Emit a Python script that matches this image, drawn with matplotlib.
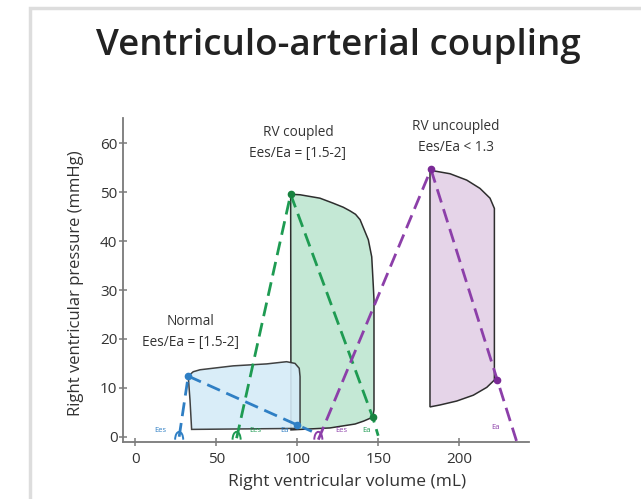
import matplotlib
matplotlib.use("Agg")
import matplotlib.pyplot as plt
from matplotlib.patches import Arc, Rectangle

plt.rcParams['font.family'] = ['Open Sans', 'DejaVu Sans']

# Pressure-volume loop outlines (volume in mL, pressure in mmHg)
normal_vol = [32.6, 35.7, 39.9, 60.4, 81.1, 93.4, 98.6, 101.2, 101.7, 101.7, 99.6, 34.7, 33.7]
normal_pres = [12.4, 13.3, 13.7, 14.5, 14.9, 15.35, 15.0, 14.0, 12.3, 2.7, 1.7, 1.5, 7.5]

coupled_vol = [95.9, 101.7, 114.0, 122.0, 128.4, 132.6, 136.0, 138.8, 143.9, 146.0,
               147.0, 147.4, 147.4, 146.6, 141.0, 135.7, 120.2, 96.1]
coupled_pres = [49.6, 49.5, 48.8, 47.8, 46.95, 46.2, 45.5, 44.4, 40.3, 36.8,
                30.7, 28.0, 5.5, 4.0, 3.2, 2.6, 1.8, 1.4]

uncoupled_vol = [182.0, 184.1, 194.4, 204.7, 212.9, 219.1, 221.8, 221.8,
                 217.1, 208.8, 198.5, 188.2, 182.0]
uncoupled_pres = [54.7, 54.4, 53.8, 52.5, 50.8, 48.8, 46.7, 11.6,
                  10.1, 8.5, 7.3, 6.5, 6.1]

# Elastance lines: end-systolic (Ees) and arterial (Ea)
normal_ees_vol, normal_ees_pres = [27.0, 32.6], [0.0, 12.4]
normal_ea_vol, normal_ea_pres = [32.6, 100.0, 109.0], [12.4, 2.4, 1.1]
coupled_ees_vol, coupled_ees_pres = [62.5, 95.9], [-0.3, 49.6]
coupled_ea_vol, coupled_ea_pres = [95.9, 146.6, 150.0], [49.6, 4.0, 0.2]
uncoupled_ees_vol, uncoupled_ees_pres = [113.0, 182.6], [-0.6, 54.7]
uncoupled_ea_vol, uncoupled_ea_pres = [182.6, 223.6, 235.6], [54.7, 11.6, -1.0]

# Marked points (end-systolic and end-diastolic/Ea intercept)
normal_pts_vol, normal_pts_pres = [32.6, 100.0], [12.4, 2.4]
coupled_pts_vol, coupled_pts_pres = [95.9, 146.6], [49.6, 4.0]
uncoupled_pts_vol, uncoupled_pts_pres = [182.6, 223.6], [54.7, 11.6]

x_ticks = [0, 50, 100, 150, 200]
y_ticks = [0, 10, 20, 30, 40, 50, 60]

blue, green, purple = '#2f7fc4', '#1e9b52', '#8c3fa9'
blue_fill, green_fill, purple_fill = '#d5ebf8', '#c4e8d5', '#e5d4e8'
outline = '#2e2e2e'
text_col = '#333333'

fig = plt.figure(figsize=(6.41, 4.99), dpi=100)
ax = fig.add_axes([0.1919, 0.1142, 0.6334, 0.6493])
ax.set_xlim(-7.7, 243.2)
ax.set_ylim(-1.08, 65.2)

# loops
ax.fill(coupled_vol, coupled_pres, facecolor=green_fill, edgecolor=outline, lw=1.1, zorder=2)
ax.fill(normal_vol, normal_pres, facecolor=blue_fill, edgecolor=outline, lw=1.1, alpha=0.9, zorder=3)
ax.fill(uncoupled_vol, uncoupled_pres, facecolor=purple_fill, edgecolor=outline, lw=1.1, zorder=2)

# dashed elastance lines
dash = dict(lw=2.0, dashes=(5, 2.5), dash_capstyle='butt', zorder=4)
ax.plot(normal_ees_vol, normal_ees_pres, color=blue, **dash)
ax.plot(normal_ea_vol, normal_ea_pres, color=blue, **dash)
ax.plot(coupled_ees_vol, coupled_ees_pres, color=green, **dash)
ax.plot(coupled_ea_vol, coupled_ea_pres, color=green, **dash)
ax.plot(uncoupled_ees_vol, uncoupled_ees_pres, color=purple, **dash)
ax.plot(uncoupled_ea_vol, uncoupled_ea_pres, color=purple, **dash)

ax.plot(normal_pts_vol, normal_pts_pres, 'o', ms=4.5, color=blue, zorder=5)
ax.plot(coupled_pts_vol, coupled_pts_pres, 'o', ms=4.5, color='#17823f', zorder=5)
ax.plot(uncoupled_pts_vol, uncoupled_pts_pres, 'o', ms=4.5, color='#7a2a96', zorder=5)

# small angle arcs at the line intercepts
for v0, col in [(normal_ees_vol[0], blue), (coupled_ees_vol[0], green), (uncoupled_ees_vol[0], purple)]:
    ax.add_patch(Arc((v0, -0.6), 5.0, 3.2, theta1=0, theta2=180, color=col, lw=1.4, zorder=4))

# angle labels along the volume axis
small = dict(fontsize=5.5, ha='center', va='center', zorder=6)
ax.text(15.2, 1.2, 'Ees', color=blue, **small)
ax.text(73.9, 1.2, 'Ees', color=green, **small)
ax.text(92.4, 1.2, 'Ea', color=blue, **small)
ax.text(127.0, 1.2, 'Ees', color=purple, **small)
ax.text(142.5, 1.2, 'Ea', color=green, **small)
ax.text(222.2, 1.9, 'Ea', color=purple, **small)

# condition labels
lab = dict(fontsize=9.8, ha='center', va='center', linespacing=1.5, color=text_col)
ax.text(33.7, 21.4, 'Normal\nEes/Ea = [1.5-2]', **lab)
ax.text(100.4, 60.1, 'RV coupled\nEes/Ea = [1.5-2]', **lab)
ax.text(197.8, 61.3, 'RV uncoupled\nEes/Ea < 1.3', **lab)

# axes styling
for side in ('top', 'right'):
    ax.spines[side].set_visible(False)
for side in ('left', 'bottom'):
    ax.spines[side].set_color('#7a7a7a')
    ax.spines[side].set_linewidth(1.3)
ax.set_xticks(x_ticks)
ax.set_yticks(y_ticks)
ax.tick_params(axis='both', direction='inout', length=6, width=1.1, color='#7a7a7a',
               labelcolor=text_col, labelsize=11)
ax.tick_params(axis='x', pad=4)
ax.tick_params(axis='y', pad=1)

ax.set_xlabel('Right ventricular volume (mL)', fontsize=12.5, color=text_col, va='center')
ax.xaxis.set_label_coords(0.553, -0.1235)
ax.set_ylabel('Right ventricular pressure (mmHg)', fontsize=12, color=text_col, va='center')
ax.yaxis.set_label_coords(-0.115, 0.49)

fig.text(338 / 641, 1 - 55 / 499, 'Ventriculo-arterial coupling', ha='center', va='baseline',
         fontsize=26.5, fontweight='semibold', color='#222222')

# light panel frame
fig.add_artist(Rectangle((30 / 641, -0.5), 2.0, 0.5 + 1 - 8 / 499, transform=fig.transFigure,
                         fill=False, edgecolor='#dddddd', lw=2.5))

fig.savefig('out.png', dpi=100)
